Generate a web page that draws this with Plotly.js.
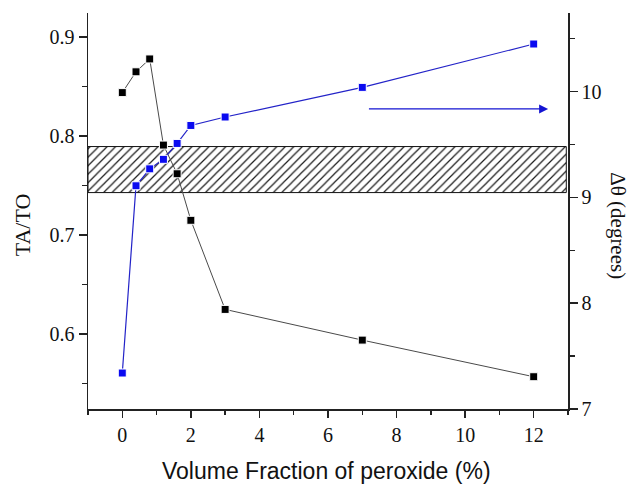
<!DOCTYPE html>
<html>
<head>
<meta charset="utf-8">
<script src="https://cdn.plot.ly/plotly-3.0.1.min.js"></script>
<style>
  html, body { margin: 0; padding: 0; background: #fff; }
  #chart { width: 632px; height: 484px; }
</style>
</head>
<body>
<div id="chart"></div>
<script>
// Peroxide volume fraction (%)
const fraction = [0, 0.4, 0.8, 1.2, 1.6, 2, 3, 7, 12];
// TA/TO ratio (left axis)
const taTo = [0.844, 0.865, 0.878, 0.791, 0.762, 0.715, 0.625, 0.594, 0.557];
// Δθ in degrees (right axis)
const deltaTheta = [7.34, 9.11, 9.27, 9.36, 9.51, 9.68, 9.76, 10.04, 10.45];

// Hatched reference band (TA/TO limits) and its x extent
const bandX = [-1, 12.95];
const bandY = [0.743, 0.7895];

// Arrow pointing to the Δθ axis
const arrowX = [7.15, 12.42];
const arrowY = 9.836;

const serif = "'Liberation Serif', 'Times New Roman', serif";
const sans = "'Liberation Sans', Arial, sans-serif";

const traces = [
  {
    x: [bandX[0], bandX[1], bandX[1], bandX[0], bandX[0]],
    y: [bandY[0], bandY[0], bandY[1], bandY[1], bandY[0]],
    xaxis: 'x', yaxis: 'y',
    mode: 'lines',
    fill: 'toself',
    fillcolor: 'rgba(255,255,255,0)',
    fillpattern: { shape: '/', fgcolor: '#1a1a1a', bgcolor: 'rgba(255,255,255,0)', size: 6, solidity: 0.2 },
    line: { color: '#111', width: 1 },
    hoverinfo: 'skip',
    showlegend: false
  },
  {
    x: fraction, y: taTo,
    xaxis: 'x', yaxis: 'y',
    mode: 'lines+markers',
    line: { color: '#4a4a4a', width: 1 },
    marker: { symbol: 'square', size: 8, color: '#000', line: { color: '#fff', width: 1 } },
    showlegend: false
  },
  {
    x: fraction, y: deltaTheta,
    xaxis: 'x', yaxis: 'y2',
    mode: 'lines+markers',
    line: { color: '#2323c8', width: 1.2 },
    marker: { symbol: 'square', size: 8, color: '#0a0af0', line: { color: '#fff', width: 1 } },
    showlegend: false
  }
];

function tickFont() { return { family: serif, size: 20, color: '#111' }; }

const layout = {
  width: 632, height: 484,
  margin: { l: 88, r: 64, t: 13, b: 75 },
  paper_bgcolor: '#fff', plot_bgcolor: '#fff',
  font: { family: serif, size: 20, color: '#111' },
  xaxis: {
    range: [-1, 13], tickvals: [0, 2, 4, 6, 8, 10, 12],
    ticks: 'outside', ticklen: 7, tickwidth: 1.5, tickcolor: '#222',
    minor: { tickvals: [-1, 1, 3, 5, 7, 9, 11, 13], ticks: 'outside', ticklen: 4, tickwidth: 1.5, tickcolor: '#222' },
    showline: true, linecolor: '#222', linewidth: 1.5,
    showgrid: false, zeroline: false,
    tickfont: tickFont()
  },
  xaxis2: {
    overlaying: 'x', side: 'top', matches: 'x', range: [-1, 13],
    tickvals: [0, 2, 4, 6, 8, 10, 12], showticklabels: false,
    ticks: 'inside', ticklen: 8, tickwidth: 1.5, tickcolor: '#222',
    minor: { tickvals: [-1, 1, 3, 5, 7, 9, 11, 13], ticks: 'inside', ticklen: 5, tickwidth: 1.5, tickcolor: '#222' },
    showline: true, linecolor: '#222', linewidth: 1.5,
    showgrid: false, zeroline: false
  },
  yaxis: {
    range: [0.5244, 0.9244], tickvals: [0.6, 0.7, 0.8, 0.9],
    ticktext: ['0.6', '0.7', '0.8', '0.9'],
    ticks: 'outside', ticklen: 8, tickwidth: 1.5, tickcolor: '#222',
    minor: { tickvals: [0.55, 0.65, 0.75, 0.85], ticks: 'outside', ticklen: 5, tickwidth: 1.5, tickcolor: '#222' },
    showline: true, linecolor: '#222', linewidth: 1.5,
    showgrid: false, zeroline: false,
    tickfont: tickFont()
  },
  yaxis2: {
    overlaying: 'y', side: 'right', anchor: 'x',
    range: [7, 10.743], tickvals: [7, 8, 9, 10],
    ticks: 'outside', ticklen: 8, tickwidth: 1.5, tickcolor: '#222',
    minor: { tickvals: [7.5, 8.5, 9.5, 10.5], ticks: 'outside', ticklen: 5, tickwidth: 1.5, tickcolor: '#222' },
    showline: true, linecolor: '#222', linewidth: 1.5,
    showgrid: false, zeroline: false,
    tickfont: tickFont()
  },
  annotations: [
    {
      x: arrowX[1], y: arrowY, xref: 'x', yref: 'y2',
      ax: arrowX[0], ay: arrowY, axref: 'x', ayref: 'y2',
      showarrow: true, arrowhead: 2, arrowsize: 1.5, arrowwidth: 1.2,
      arrowcolor: '#1414d2', text: ''
    },
    {
      text: 'TA/TO', xref: 'paper', yref: 'paper', x: -0.1375, y: 0.464,
      xanchor: 'center', yanchor: 'middle', textangle: -90, showarrow: false,
      font: { family: serif, size: 22, color: '#111' }
    },
    {
      text: 'Δθ (degrees)', xref: 'paper', yref: 'paper', x: 1.105, y: 0.463,
      xanchor: 'center', yanchor: 'middle', textangle: 90, showarrow: false,
      font: { family: serif, size: 21, color: '#111' }
    },
    {
      text: 'Volume Fraction of peroxide (%)', xref: 'paper', yref: 'paper', x: 0.497, y: -0.157,
      xanchor: 'center', yanchor: 'middle', showarrow: false,
      font: { family: sans, size: 23, color: '#111' }
    }
  ]
};

Plotly.newPlot('chart', traces, layout, { staticPlot: true, displayModeBar: false });
</script>
</body>
</html>
